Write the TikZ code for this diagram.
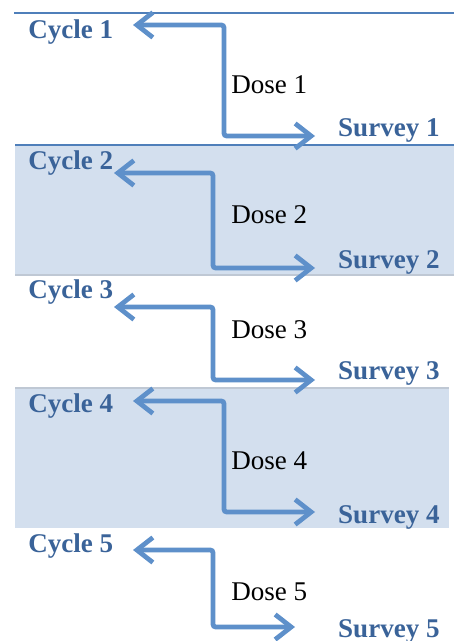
\documentclass[tikz,border=0pt]{standalone}
\usepackage{fontspec}
\setmainfont{Liberation Serif}
\usetikzlibrary{arrows.meta}
\definecolor{headblue}{HTML}{3A6399}
\definecolor{arrowblue}{HTML}{5E90CA}
\definecolor{bandfill}{HTML}{D3DFEE}
\definecolor{rulecol}{HTML}{4F7FBA}
\definecolor{bandedge}{HTML}{BFC8D4}
\begin{document}
\begin{tikzpicture}[x=0.02cm, y=-0.02cm,
    cycle/.style ={anchor=base west, inner sep=0pt, text=headblue, font=\fontsize{15.4}{18}\selectfont\bfseries},
    survey/.style ={anchor=base east, inner sep=0pt, text=headblue, font=\fontsize{15.4}{18}\selectfont\bfseries},
    dose/.style ={anchor=base west, inner sep=0pt, font=\fontsize{15.4}{18}\selectfont},
    flow/.style ={draw=arrowblue, line width=2.7pt, rounded corners=1.5pt,
        {Straight Barb[length=3.2mm, width=5mm]}-{Straight Barb[length=3.2mm, width=5mm]}}]
   \useasboundingbox (0,0) rectangle (454,641);
   % shaded bands
   \fill[bandfill] (15,145) rectangle (454,275);
   \draw[bandedge, line width=0.8pt] (15,275) -- (454,275);
   \draw[rulecol, line width=0.9pt] (15,145) -- (454,145);
   \fill[bandfill] (15,388) rectangle (449,528);
   \draw[bandedge, line width=0.6pt] (15,388) -- (449,388);
   \draw[rulecol, line width=1.2pt] (14,13) -- (454,13);
   % labels
   \node[cycle] (C1) at (28,39)  {Cycle 1};
   \node[cycle] (C2) at (28,170) {Cycle 2};
   \node[cycle] (C3) at (28,298) {Cycle 3};
   \node[cycle] (C4) at (28,412) {Cycle 4};
   \node[cycle] (C5) at (28,552) {Cycle 5};
   \node[dose] (D1) at (231,94)  {Dose 1};
   \node[dose] (D2) at (231,224) {Dose 2};
   \node[dose] (D3) at (231,338) {Dose 3};
   \node[dose] (D4) at (231,469) {Dose 4};
   \node[dose] (D5) at (231,600) {Dose 5};
   \node[survey] (S1) at (440,137) {Survey 1};
   \node[survey] (S2) at (440,269) {Survey 2};
   \node[survey] (S3) at (440,379) {Survey 3};
   \node[survey] (S4) at (440,523) {Survey 4};
   \node[survey] (S5) at (440,637) {Survey 5};
   % arrow ends and bends
   \coordinate (a1) at (133,25);  \coordinate (k1) at (224,25);  \coordinate (m1) at (224,136); \coordinate (b1) at (315,136);
   \coordinate (a2) at (114,173); \coordinate (k2) at (213,173); \coordinate (m2) at (213,268); \coordinate (b2) at (315,268);
   \coordinate (a3) at (114,307); \coordinate (k3) at (213,307); \coordinate (m3) at (213,380); \coordinate (b3) at (315,380);
   \coordinate (a4) at (133,401); \coordinate (k4) at (224,401); \coordinate (m4) at (224,512); \coordinate (b4) at (315,512);
   \coordinate (a5) at (133,550); \coordinate (k5) at (213,550); \coordinate (m5) at (213,627); \coordinate (b5) at (295,627);
   \draw[flow] (a1) -- (k1) -- (m1) -- (b1);
   \draw[flow] (a2) -- (k2) -- (m2) -- (b2);
   \draw[flow] (a3) -- (k3) -- (m3) -- (b3);
   \draw[flow] (a4) -- (k4) -- (m4) -- (b4);
   \draw[flow] (a5) -- (k5) -- (m5) -- (b5);
\end{tikzpicture}
\end{document}
